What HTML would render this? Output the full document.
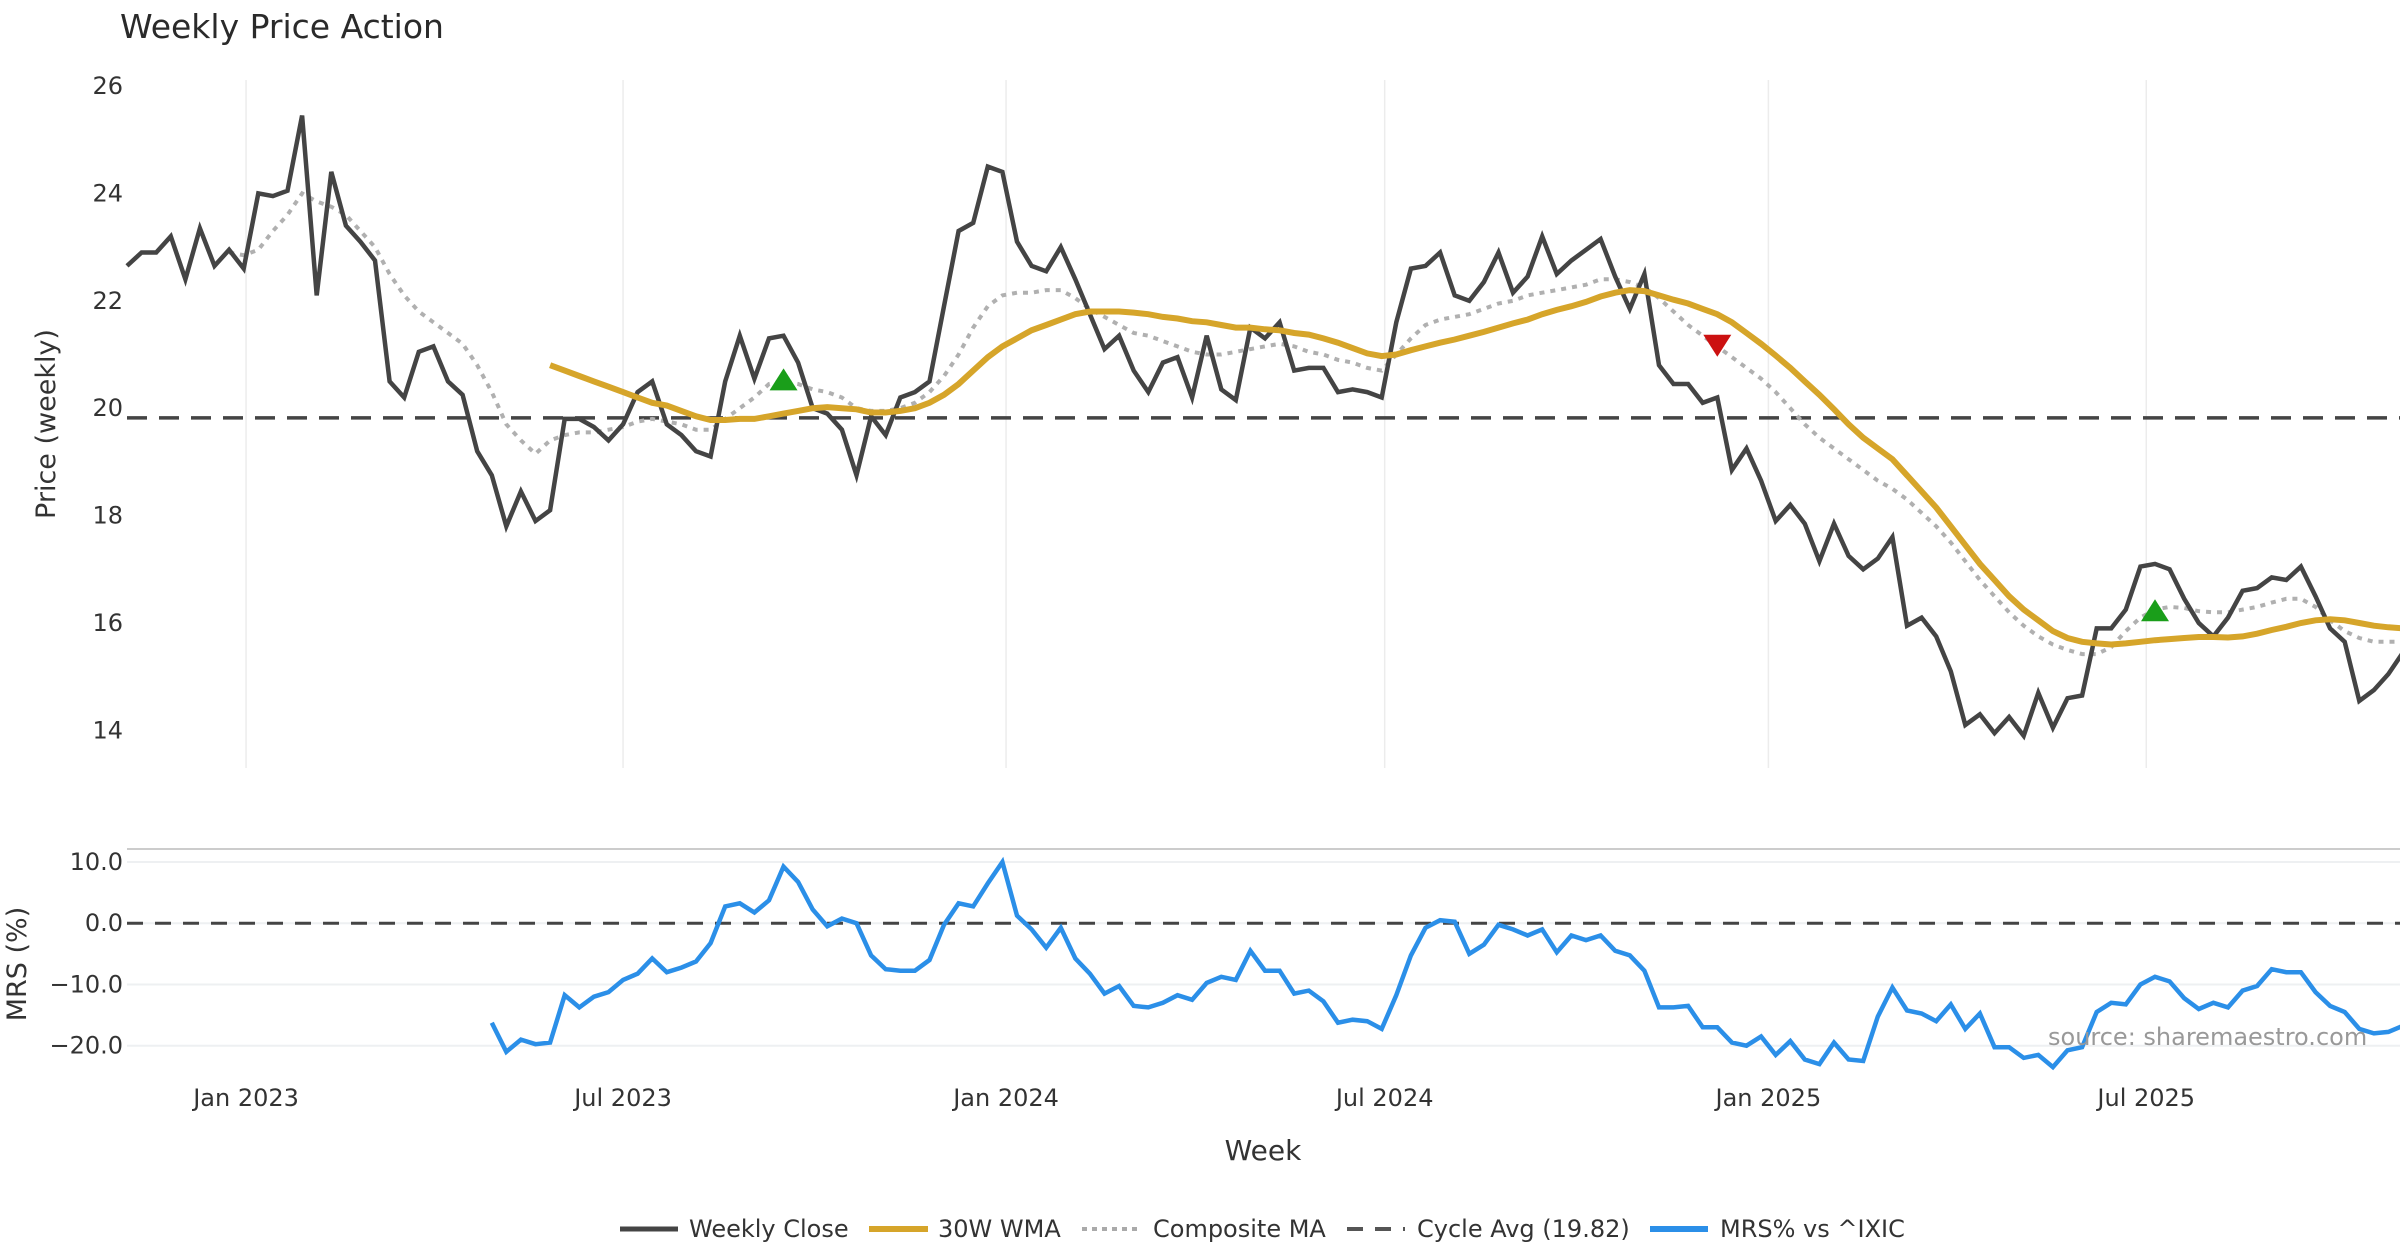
<!DOCTYPE html>
<html><head><meta charset="utf-8"><style>
html,body{margin:0;padding:0;background:#fff;}
svg{display:block;font-family:"DejaVu Sans","Liberation Sans",sans-serif;}
</style></head><body>
<svg id="chart" width="2400" height="1260" viewBox="0 0 2400 1260" xmlns="http://www.w3.org/2000/svg">
<text x="120" y="38" font-size="33" fill="#2a2a2a">Weekly Price Action</text>
<g id="grid"></g><g id="series"></g><g id="axes"></g>
<text transform="translate(55,424) rotate(-90)" text-anchor="middle" font-size="27" fill="#333">Price (weekly)</text>
<text transform="translate(26,964) rotate(-90)" text-anchor="middle" font-size="27" fill="#333">MRS (%)</text>
<text x="1263" y="1160" text-anchor="middle" font-size="28" fill="#333">Week</text>
<text x="2048" y="1045" font-size="24" fill="#999">source: sharemaestro.com</text>
<g font-size="24" fill="#333">
<line x1="620" y1="1229" x2="678" y2="1229" stroke="#444" stroke-width="5"/><text x="689" y="1237">Weekly Close</text>
<line x1="869" y1="1229" x2="928" y2="1229" stroke="#d6a52a" stroke-width="6"/><text x="938" y="1237">30W WMA</text>
<line x1="1082" y1="1229" x2="1140" y2="1229" stroke="#aaa" stroke-width="4" stroke-dasharray="5,5"/><text x="1153" y="1237">Composite MA</text>
<line x1="1347" y1="1229" x2="1405" y2="1229" stroke="#555" stroke-width="4" stroke-dasharray="16,12"/><text x="1417" y="1237">Cycle Avg (19.82)</text>
<line x1="1650" y1="1229" x2="1708" y2="1229" stroke="#2b8fe8" stroke-width="6"/><text x="1720" y="1237">MRS% vs ^IXIC</text>
</g>
</svg>
<script>
const closeVals=[22.65,22.9,22.9,23.2,22.4,23.35,22.65,22.95,22.6,24.0,23.95,24.05,25.45,22.1,24.4,23.4,23.1,22.75,20.5,20.2,21.05,21.15,20.5,20.25,19.2,18.75,17.8,18.45,17.9,18.1,19.8,19.8,19.65,19.4,19.7,20.3,20.5,19.7,19.5,19.2,19.1,20.5,21.35,20.55,21.3,21.35,20.85,20.0,19.9,19.6,18.75,19.85,19.5,20.2,20.3,20.5,21.9,23.3,23.45,24.5,24.4,23.1,22.65,22.55,23.0,22.4,21.75,21.1,21.35,20.7,20.3,20.85,20.95,20.2,21.35,20.35,20.15,21.5,21.3,21.6,20.7,20.75,20.75,20.3,20.35,20.3,20.2,21.6,22.6,22.65,22.9,22.1,22.0,22.35,22.9,22.15,22.45,23.2,22.5,22.75,22.95,23.15,22.45,21.85,22.5,20.8,20.45,20.45,20.1,20.2,18.85,19.25,18.65,17.9,18.2,17.85,17.15,17.85,17.25,17.0,17.2,17.6,15.95,16.1,15.75,15.1,14.1,14.3,13.95,14.25,13.9,14.7,14.05,14.6,14.65,15.9,15.9,16.25,17.05,17.1,17.0,16.45,16.0,15.75,16.1,16.6,16.65,16.85,16.8,17.05,16.5,15.9,15.65,14.55,14.75,15.05,15.45];
const wmaStart=29;
const wmaVals=[20.8,20.7,20.6,20.5,20.4,20.3,20.2,20.1,20.05,19.95,19.85,19.78,19.78,19.8,19.8,19.85,19.9,19.95,20.0,20.02,20.0,19.98,19.92,19.92,19.95,20.0,20.1,20.25,20.45,20.7,20.95,21.15,21.3,21.45,21.55,21.65,21.75,21.8,21.8,21.8,21.78,21.75,21.7,21.67,21.62,21.6,21.55,21.5,21.5,21.47,21.45,21.4,21.37,21.3,21.22,21.12,21.02,20.97,21.0,21.08,21.15,21.22,21.28,21.35,21.42,21.5,21.58,21.65,21.75,21.83,21.9,21.98,22.08,22.15,22.2,22.18,22.1,22.02,21.95,21.85,21.75,21.6,21.4,21.2,20.98,20.75,20.5,20.25,19.98,19.7,19.45,19.25,19.05,18.75,18.45,18.15,17.8,17.45,17.1,16.8,16.5,16.25,16.05,15.85,15.72,15.65,15.62,15.6,15.62,15.65,15.68,15.7,15.72,15.74,15.74,15.73,15.75,15.8,15.87,15.93,16.0,16.05,16.07,16.05,16.0,15.95,15.92,15.9];
const compStart=7;
const compVals=[22.9,22.85,22.95,23.3,23.6,24.0,23.85,23.75,23.6,23.3,23.0,22.5,22.1,21.8,21.6,21.4,21.2,20.8,20.3,19.7,19.4,19.15,19.4,19.5,19.55,19.55,19.6,19.65,19.75,19.8,19.75,19.7,19.6,19.6,19.8,20.0,20.2,20.45,20.5,20.45,20.35,20.3,20.2,20.0,19.95,19.95,20.0,20.1,20.3,20.6,21.0,21.5,21.9,22.1,22.15,22.15,22.2,22.2,22.05,21.85,21.7,21.55,21.4,21.35,21.25,21.15,21.05,21.0,21.0,21.05,21.1,21.15,21.2,21.15,21.05,21.0,20.9,20.85,20.75,20.7,21.0,21.3,21.55,21.65,21.7,21.75,21.85,21.95,22.0,22.1,22.15,22.2,22.25,22.3,22.4,22.4,22.35,22.25,22.05,21.8,21.55,21.35,21.15,20.95,20.75,20.55,20.3,20.0,19.7,19.45,19.25,19.05,18.85,18.65,18.5,18.3,18.05,17.8,17.5,17.15,16.8,16.5,16.2,15.95,15.75,15.6,15.5,15.42,15.42,15.55,15.85,16.1,16.25,16.3,16.28,16.22,16.2,16.2,16.25,16.3,16.38,16.45,16.45,16.3,16.05,15.85,15.72,15.65,15.65,15.65];
const mrsStart=25;
const mrsVals=[-16.25,-21,-19,-19.75,-19.5,-11.75,-13.75,-12,-11.25,-9.25,-8.25,-5.75,-8,-7.25,-6.25,-3.25,2.75,3.25,1.75,3.75,9.25,6.75,2.25,-0.5,0.75,0,-5.25,-7.5,-7.75,-7.75,-6,-0.25,3.25,2.75,6.5,10,1.25,-1,-4,-0.75,-5.75,-8.25,-11.5,-10.25,-13.5,-13.75,-13,-11.75,-12.5,-9.75,-8.75,-9.25,-4.5,-7.75,-7.75,-11.5,-11,-12.75,-16.25,-15.75,-16,-17.25,-11.75,-5.25,-0.75,0.5,0.25,-5,-3.5,-0.25,-1,-2,-1,-4.75,-2,-2.75,-2,-4.5,-5.25,-7.75,-13.75,-13.75,-13.5,-17,-17,-19.5,-20,-18.5,-21.5,-19.25,-22.25,-23,-19.5,-22.25,-22.5,-15.25,-10.5,-14.25,-14.75,-16,-13.25,-17.25,-14.75,-20.25,-20.25,-22,-21.5,-23.5,-20.75,-20.25,-14.5,-13,-13.25,-10,-8.75,-9.5,-12.25,-14,-13,-13.75,-11,-10.25,-7.5,-8,-8,-11.25,-13.5,-14.5,-17.25,-18,-17.75,-16.75];
const cycleAvg=19.82;
const markerIdx=[45,109,139];
const markerVals=[20.5,21.2,16.2];
const markerDir=['up','down','up'];
const yTicks=[14,16,18,20,22,24,26];
const mrsTicks=[10,0,-10,-20];
const xTickIdx=[8.16,34.0,60.25,86.2,112.5,138.4];
const xTickLabels=['Jan 2023','Jul 2023','Jan 2024','Jul 2024','Jan 2025','Jul 2025'];

const NS='http://www.w3.org/2000/svg';
const X=i=>127+i*14.59;
const Y=v=>86+(26-v)*53.7;
const M=v=>862-(v-10)*6.123;
function mk(tag,attrs,parent){const e=document.createElementNS(NS,tag);for(const k in attrs)e.setAttribute(k,attrs[k]);parent.appendChild(e);return e;}
const grid=document.getElementById('grid'),ser=document.getElementById('series'),ax=document.getElementById('axes');
xTickIdx.forEach((t,k)=>{
  const g=mk('line',{x1:X(t),x2:X(t),y1:80,y2:768,stroke:'#ececec','stroke-width':1.5},grid);
  
  
  const tx=mk('text',{x:X(t),y:1106,'text-anchor':'middle','font-size':24,fill:'#333'},ax);
  tx.textContent=xTickLabels[k];
  
  
});
yTicks.forEach(v=>{
  const tx=mk('text',{x:123,y:Y(v)+8,'text-anchor':'end','font-size':24,fill:'#333'},ax);
  tx.textContent=String(v);
  
  
});
const border=mk('line',{x1:127,x2:2400,y1:849,y2:849,stroke:'#ccc','stroke-width':2},grid);


mrsTicks.forEach(v=>{
  const g=mk('line',{x1:127,x2:2400,y1:M(v),y2:M(v),stroke:'#eef0f2','stroke-width':2},grid);
  
  
  const tx=mk('text',{x:123,y:M(v)+8,'text-anchor':'end','font-size':24,fill:'#333'},ax);
  tx.textContent=(v<0?'\u2212'+Math.abs(v).toFixed(1):v.toFixed(1));
  
  
});
const zl=mk('line',{x1:127,x2:2400,y1:M(0),y2:M(0),stroke:'#444','stroke-width':3,'stroke-dasharray':'16,12'},ser);


const cl=mk('line',{x1:127,x2:2400,y1:Y(cycleAvg),y2:Y(cycleAvg),stroke:'#444','stroke-width':3.5,'stroke-dasharray':'20,12'},ser);


function pts(vals,start,f){return vals.map((v,i)=>X(start+i).toFixed(1)+','+f(v).toFixed(1)).join(' ');}
const comp=mk('polyline',{points:pts(compVals,compStart,Y),fill:'none',stroke:'#b0b0b0','stroke-width':4,'stroke-dasharray':'5,6'},ser);


const cls=mk('polyline',{points:pts(closeVals,0,Y),fill:'none',stroke:'#444','stroke-width':4.5,'stroke-linejoin':'miter'},ser);


const wma=mk('polyline',{points:pts(wmaVals,wmaStart,Y),fill:'none',stroke:'#d6a52a','stroke-width':6},ser);


const mrs=mk('polyline',{points:pts(mrsVals,mrsStart,M),fill:'none',stroke:'#2b8fe8','stroke-width':4.5},ser);


markerIdx.forEach((idx,k)=>{
  const x=X(idx),y=Y(markerVals[k]);
  const p=markerDir[k]==='up'?`${x-14},${y+9} ${x+14},${y+9} ${x},${y-13}`:`${x-14},${y-9} ${x+14},${y-9} ${x},${y+13}`;
  const m=mk('polygon',{points:p,fill:markerDir[k]==='up'?'#1a9e1a':'#cc1111'},ser);
  
  
});
</script>
</body></html>
